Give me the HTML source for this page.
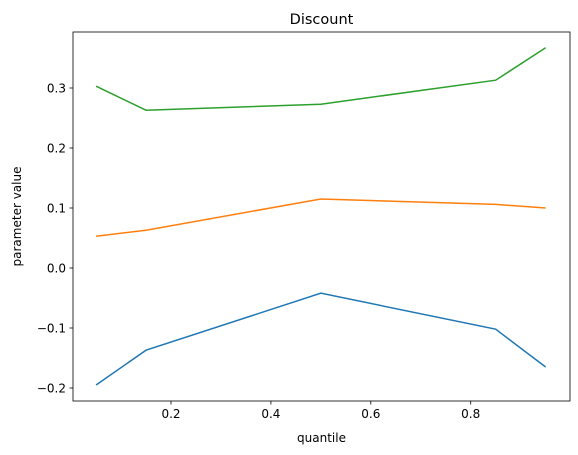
<!DOCTYPE html>
<html><head><meta charset="utf-8"><style>
html,body{margin:0;padding:0;background:#fff;width:578px;height:455px;overflow:hidden}
svg{font-family:"DejaVu Sans","Liberation Sans",sans-serif}
</style></head><body>
<svg id="chart" width="578" height="455" xmlns="http://www.w3.org/2000/svg"></svg>
<script>
const quantiles = [0.05, 0.15, 0.5, 0.85, 0.95];
const seriesBlue = [-0.195, -0.137, -0.042, -0.102, -0.165];
const seriesOrange = [0.053, 0.063, 0.115, 0.106, 0.100];
const seriesGreen = [0.303, 0.263, 0.273, 0.313, 0.367];
const xTicks = [0.2, 0.4, 0.6, 0.8];
const xTickLabels = ["0.2", "0.4", "0.6", "0.8"];
const yTicks = [-0.2, -0.1, 0.0, 0.1, 0.2, 0.3];
const yTickLabels = ["\u22120.2", "\u22120.1", "0.0", "0.1", "0.2", "0.3"];

const L = 73, R = 570, T = 32, B = 401;
function xs(v){ return 171 + (v - 0.2) * 499.5; }
function ys(v){ return 268 - v * 600; }
const NS = "http://www.w3.org/2000/svg";
const svg = document.getElementById('chart');
function mk(tag, attrs, parent){
  const e = document.createElementNS(NS, tag);
  for (const k in attrs) e.setAttribute(k, attrs[k]);
  (parent || svg).appendChild(e);
  return e;
}
const series = [[seriesBlue, '#1f77b4', 'line-blue'], [seriesOrange, '#ff7f0e', 'line-orange'], [seriesGreen, '#2ca02c', 'line-green']];
series.forEach(s => {
  const p = mk('polyline', {points: quantiles.map((q, i) => xs(q) + ',' + ys(s[0][i])).join(' '), fill: 'none', stroke: s[1], 'stroke-width': 1.5});
  
  
});
const frame = mk('rect', {x: L, y: T, width: R - L, height: B - T, fill: 'none', stroke: '#000', 'stroke-width': 0.8});


xTicks.forEach((v, i) => {
  const x = xs(v);
  mk('line', {x1: x, x2: x, y1: B, y2: B + 3.5, stroke: '#000', 'stroke-width': 0.8});
  const t = mk('text', {x: x, y: B + 17, 'text-anchor': 'middle', 'font-size': 12});
  t.textContent = xTickLabels[i];
  
  
});
yTicks.forEach((v, i) => {
  const y = ys(v);
  mk('line', {x1: L - 3.5, x2: L, y1: y, y2: y, stroke: '#000', 'stroke-width': 0.8});
  const t = mk('text', {x: L - 7, y: y + 4.5, 'text-anchor': 'end', 'font-size': 12});
  t.textContent = yTickLabels[i];
  
  
});
const title = mk('text', {x: (L + R) / 2, y: 24, 'text-anchor': 'middle', 'font-size': 14.5});
title.textContent = 'Discount';


const xl = mk('text', {x: (L + R) / 2, y: 442, 'text-anchor': 'middle', 'font-size': 12});
xl.textContent = 'quantile';


const yl = mk('text', {x: 21, y: (T + B) / 2, 'text-anchor': 'middle', 'font-size': 12, transform: 'rotate(-90 21 ' + (T + B) / 2 + ')'});
yl.textContent = 'parameter value';


</script>
</body></html>
